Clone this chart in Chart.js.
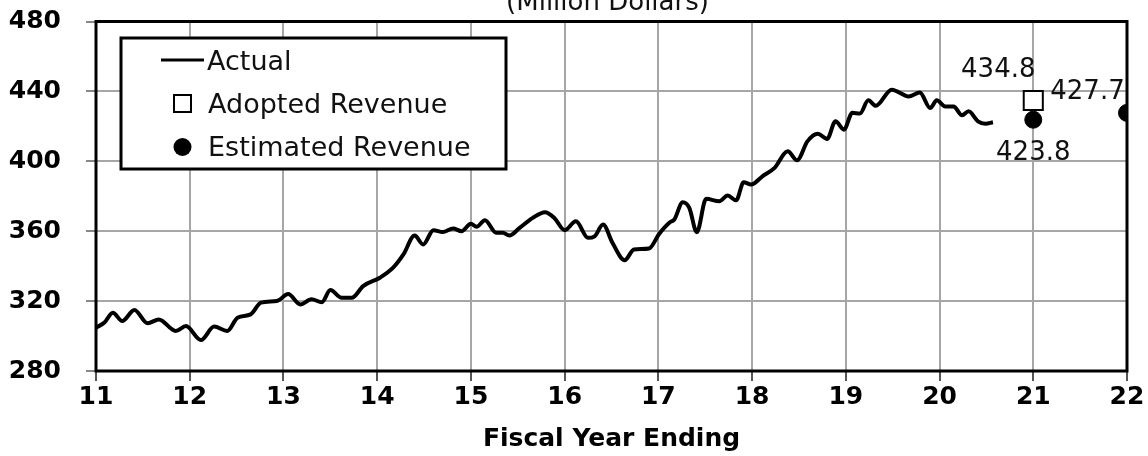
<!DOCTYPE html>
<html>
<head>
<meta charset="utf-8">
<script src="https://cdn.jsdelivr.net/npm/chart.js@4.4.1/dist/chart.umd.min.js"></script>
<style>
  html, body { margin: 0; padding: 0; background: #fff; }
</style>
</head>
<body>
<canvas id="revChart" width="1148" height="456"></canvas>
<script>
// actual revenue (fiscal year, million dollars)
var actualYears = [
  11.00, 11.09, 11.18, 11.28, 11.41, 11.55, 11.67, 11.85, 11.96, 12.12,
  12.26, 12.40, 12.51, 12.65, 12.76, 12.93, 13.05, 13.18, 13.30, 13.41,
  13.50, 13.62, 13.73, 13.85, 14.03, 14.17, 14.28, 14.40, 14.49, 14.60,
  14.70, 14.81, 14.90, 15.00, 15.06, 15.15, 15.27, 15.34, 15.41, 15.52,
  15.66, 15.79, 15.89, 16.00, 16.12, 16.25, 16.32, 16.41, 16.51, 16.64,
  16.74, 16.90, 17.01, 17.12, 17.17, 17.26, 17.33, 17.41, 17.51, 17.65,
  17.74, 17.83, 17.91, 17.99, 18.11, 18.24, 18.38, 18.48, 18.59, 18.70,
  18.80, 18.89, 18.98, 19.07, 19.15, 19.24, 19.32, 19.49, 19.67, 19.79,
  19.90, 19.97, 20.06, 20.15, 20.24, 20.31, 20.41, 20.49, 20.57
];
var actualValues = [
  304.8, 307.7, 313.4, 308.6, 314.9, 307.3, 309.5, 302.9, 305.7, 297.7,
  305.4, 302.9, 310.5, 312.4, 319.1, 320.0, 324.0, 318.1, 321.0, 319.4,
  326.3, 321.9, 321.9, 328.6, 333.4, 339.1, 346.7, 357.5, 352.4, 360.6,
  359.5, 361.5, 360.0, 364.3, 362.5, 366.3, 359.1, 359.1, 357.5, 361.9,
  367.6, 370.9, 367.6, 360.6, 365.7, 356.2, 357.1, 363.8, 353.4, 343.4,
  349.5, 350.1, 358.6, 365.0, 366.7, 376.6, 373.4, 359.4, 378.5, 377.1,
  380.4, 377.7, 388.0, 386.7, 391.4, 396.2, 405.7, 400.6, 411.4, 415.8,
  412.8, 422.9, 418.1, 427.8, 427.3, 434.9, 431.8, 441.0, 437.1, 439.4,
  430.5, 434.9, 431.4, 431.4, 426.3, 428.6, 422.9, 421.5, 422.3
];

var adoptedYears = [21];
var adoptedValues = [434.8];
var estimatedYears = [21, 22];
var estimatedValues = [423.8, 427.7];

var legendLabels = ['Actual', 'Adopted Revenue', 'Estimated Revenue'];
var chartTitle = '(Million Dollars)';
var xTitle = 'Fiscal Year Ending';

function pairs(xs, ys) {
  return xs.map(function (x, i) { return { x: x, y: ys[i] }; });
}

// frame, title, value labels and the boxed legend
var extras = {
  id: 'extras',
  afterDraw: function (chart) {
    var ctx = chart.ctx;
    var a = chart.chartArea;
    var xs = chart.scales.x, ys = chart.scales.y;
    ctx.save();

    ctx.strokeStyle = '#000';
    ctx.lineWidth = 3;
    ctx.strokeRect(a.left, a.top, a.right - a.left, a.bottom - a.top);

    ctx.fillStyle = '#111';
    ctx.textBaseline = 'alphabetic';
    ctx.textAlign = 'center';
    ctx.font = '26px "DejaVu Sans"';
    ctx.fillText(chartTitle, (a.left + a.right) / 2 - 4, 10);

    // value labels next to the markers
    function valueLabel(xv, yv, dx, dy) {
      ctx.fillText(yv.toFixed(1), xs.getPixelForValue(xv) + dx, ys.getPixelForValue(yv) + dy);
    }
    valueLabel(adoptedYears[0], adoptedValues[0], -35, -23.5);
    valueLabel(estimatedYears[0], estimatedValues[0], 0, 40.5);
    valueLabel(estimatedYears[1], estimatedValues[1], -39.5, -14);

    // legend box
    ctx.fillStyle = '#fff';
    ctx.fillRect(121, 38, 385, 131);
    ctx.lineWidth = 3;
    ctx.strokeRect(121, 38, 385, 131);

    ctx.beginPath();
    ctx.moveTo(161, 60);
    ctx.lineTo(204, 60);
    ctx.stroke();

    ctx.lineWidth = 2;
    ctx.fillStyle = '#fff';
    ctx.fillRect(174, 95, 17, 17);
    ctx.strokeRect(174, 95, 17, 17);

    ctx.fillStyle = '#000';
    ctx.beginPath();
    ctx.arc(182.5, 147, 9, 0, Math.PI * 2);
    ctx.fill();

    ctx.fillStyle = '#111';
    ctx.textAlign = 'left';
    ctx.font = '27px "DejaVu Sans"';
    ctx.fillText(legendLabels[0], 207, 70);
    ctx.fillText(legendLabels[1], 208, 113);
    ctx.fillText(legendLabels[2], 208, 156);

    ctx.restore();
  }
};

Chart.defaults.font.family = '"DejaVu Sans"';

new Chart(document.getElementById('revChart'), {
  type: 'line',
  data: {
    datasets: [
      {
        label: legendLabels[0],
        data: pairs(actualYears, actualValues),
        borderColor: '#000',
        borderWidth: 4,
        pointRadius: 0,
        cubicInterpolationMode: 'monotone',
        fill: false
      },
      {
        label: legendLabels[1],
        data: pairs(adoptedYears, adoptedValues),
        showLine: false,
        pointStyle: 'rect',
        pointRadius: 13.5,
        pointBackgroundColor: '#fff',
        pointBorderColor: '#000',
        pointBorderWidth: 2
      },
      {
        label: legendLabels[2],
        data: pairs(estimatedYears, estimatedValues),
        showLine: false,
        pointStyle: 'circle',
        pointRadius: 8.5,
        pointBackgroundColor: '#000',
        pointBorderColor: '#000',
        pointBorderWidth: 1,
        clip: 0
      }
    ]
  },
  options: {
    responsive: false,
    animation: false,
    layout: { padding: { top: 21.5, right: 21, left: 0, bottom: 0 } },
    plugins: {
      legend: { display: false },
      tooltip: { enabled: false },
      title: { display: false }
    },
    scales: {
      x: {
        type: 'linear',
        min: 11,
        max: 22,
        afterFit: function (s) {
          s.height = 85;
          s.paddingLeft = 0;
          s.paddingRight = 0;
        },
        ticks: { stepSize: 1, color: '#000', padding: 1, font: { size: 25, weight: 'bold' } },
        grid: { color: '#a6a6a6', lineWidth: 2, tickLength: 10, tickColor: '#555' },
        border: { display: false },
        title: {
          display: true,
          text: xTitle,
          color: '#000',
          font: { size: 25, weight: 'bold' },
          padding: { top: 0, bottom: 2 }
        }
      },
      y: {
        min: 280,
        max: 480,
        afterFit: function (s) {
          s.width = 96;
          s.paddingTop = 0;
          s.paddingBottom = 0;
        },
        ticks: { stepSize: 40, color: '#000', padding: 25, font: { size: 25, weight: 'bold' } },
        grid: { color: '#a6a6a6', lineWidth: 2, tickLength: 10, tickColor: '#888' },
        border: { display: false }
      }
    }
  },
  plugins: [extras]
});
</script>
</body>
</html>
